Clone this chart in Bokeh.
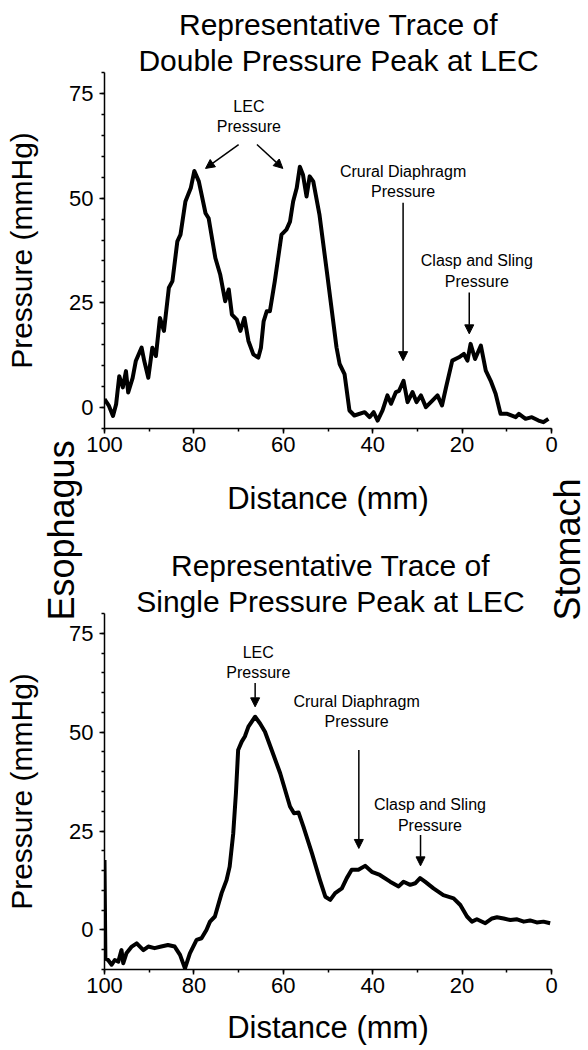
import math
from bokeh.plotting import figure
from bokeh.models import (Range1d, SingleIntervalTicker, Arrow, NormalHead,
                          ColumnDataSource)
from bokeh.layouts import column
from bokeh.core.properties import value
from bokeh.embed import file_html
from bokeh.resources import INLINE

FONT = "Liberation Sans"

# ---------------- data ----------------
top_title = ["Representative Trace of", "Double Pressure Peak at LEC"]
bot_title = ["Representative Trace of", "Single Pressure Peak at LEC"]
side_labels = ["Esophagus", "Stomach"]

top_x = [100, 99, 98.1, 97.4, 96.7, 95.9, 95.2, 94.7, 93.7, 93, 91.7, 91.1, 90.2,
         89.3, 88.5, 87.6, 86.7, 85.6, 84.8, 83.7, 83, 81.9, 80.7, 79.9, 78.9, 77.4,
         76.7, 75.2, 74.1, 73, 72.2, 71.5, 70.4, 69.6, 68.7, 67.8, 66.7, 65.6, 65,
         64.4, 63.7, 63, 61.9, 60.4, 59.3, 58.5, 57.8, 57, 56.3, 55.6, 54.8, 54.1,
         53.3, 51.9, 50.2, 48.1, 47.4, 46.3, 45.2, 44.1, 41.8, 40.7, 39.8, 38.9,
         37.8, 36.7, 35.9, 34.8, 34.1, 33.1, 32.2, 31.1, 30.2, 29.2, 28.1, 26.6,
         25.5, 24.5, 23.6, 22.2, 20.7, 19.6, 18.8, 18.1, 17.1, 15.8, 14.7, 13.6,
         12.5, 11.4, 9.9, 8, 7.3, 5.8, 4.4, 2.9, 1.8, 0.7]
top_y = [2, 0.4, -2, 0.8, 7.5, 4.8, 8.7, 3.6, 7.1, 11.1, 14.3, 11.1, 7.1,
         14.3, 12.3, 21.4, 18.3, 28.6, 30.2, 39.7, 41.3, 49.2, 52.4, 56.5, 54, 46.4,
         45.2, 35.7, 31.7, 25.4, 28.2, 22.2, 21, 18.3, 21.4, 15.9, 12.7, 11.9, 14.3,
         20.6, 23, 23, 30.2, 41.3, 42.5, 44.4, 49.2, 52.4, 57.5, 55.6, 50.4, 55.2,
         54, 46, 32, 14.4, 10.4, 8, -0.7, -1.9, -1.1, -2.3, -1.1, -3.1,
         -0.7, 2.9, 0.9, 3.7, 4, 6.4, 1.3, 3.7, 1.3, 2.9, 0.1, 1.7,
         2.9, 0.5, 4.8, 11.2, 12, 12.8, 11.2, 15.2, 11.6, 14.8, 8.8, 6.4,
         3.3, -1.5, -1.5, -2.3, -1.5, -2.7, -2.3, -3.1, -3.5, -2.7]

bot_x = [100, 99.8, 99.2, 98.4, 97.7, 96.9, 96.2, 95.8, 95.1, 93.9, 92.8, 91.3, 90.2,
         88.8, 87.3, 85.8, 84.3, 83.1, 82, 80.9, 79.4, 78.3, 77.2, 76.4, 75.3, 73.8,
         72.7, 72, 71.2, 70.6, 70.1, 69.3, 68.6, 67.8, 66.3, 65.2, 64.1, 62.6, 60.7,
         58.5, 57.6, 56.6, 55.5, 53.6, 51.8, 50.6, 49.5, 48.4, 46.9, 45.8, 44.7, 43.2,
         41.7, 40.2, 38.4, 36.1, 34.2, 33.1, 31.6, 30.5, 29.4, 28.3, 26.4, 24.2, 21.9,
         20.4, 18.9, 17.8, 16.7, 14.8, 13.3, 12.2, 10.7, 9.2, 7.7, 6.2, 4.8, 3.3, 1.8, 0.3]
bot_y = [17.7, -7.2, -7.6, -8.8, -7.6, -8, -5.1, -8.4, -5.9, -4.2, -3.4, -5.1, -4.2,
         -4.6, -4.2, -3.8, -4.2, -6.3, -9.7, -5.9, -2.5, -2.1, 0, 2.1, 3.4, 9.3,
         12.6, 16, 24.4, 34.5, 45.5, 47.6, 48.9, 51.4, 53.9, 52.2, 50.1, 45.5, 39.6,
         31.2, 29.5, 29.7, 26.1, 19.4, 12.6, 8.4, 7.6, 9.3, 10.5, 13.1, 15.2, 15.2,
         16.2, 14.7, 13.9, 12.2, 11, 12.2, 11.4, 11.8, 13.1, 12.2, 10.5, 8.8, 8,
         6.3, 3.4, 2.1, 2.7, 1.7, 2.9, 3.2, 2.9, 2.5, 2.7, 2.1, 2.4, 1.9, 2.1, 1.7]

ann_text = ["LEC", "Pressure", "Crural Diaphragm", "Pressure", "Clasp and Sling", "Pressure"]

# annotation placement (data units)
top_ann_x = [67.7, 67.7, 33.2, 33.2, 16.7, 16.7]
top_ann_y = [71.9, 67.1, 56.3, 51.5, 35.0, 30.2]
top_arr = dict(x_start=[70, 65.9, 33.2, 18.4], y_start=[62.8, 62.8, 48.9, 27.5],
               x_end=[77.4, 60.1, 33.2, 18.4], y_end=[57.1, 57.1, 11.2, 17.6])

bot_ann_x = [65.6, 65.6, 43.6, 43.6, 27.2, 27.2]
bot_ann_y = [70.1, 65.0, 57.7, 52.7, 31.6, 26.5]
bot_arr = dict(x_start=[66.3, 43.1, 29.3], y_start=[62.4, 45.5, 24.0],
               x_end=[66.3, 43.1, 29.3], y_end=[56.4, 20.6, 16.2])

W = 588
H_TOP, H_BOT = 530, 520
H_ALL = H_TOP + H_BOT


def make_fig(height, btop, bbottom, ymin, xs, ys, ax, ay, arr, xlab_standoff):
    p = figure(width=W, height=height, x_range=Range1d(100, 0), y_range=Range1d(ymin, 80),
               output_backend="svg", toolbar_location=None, title=None,
               min_border_left=104, min_border_right=37,
               min_border_top=btop, min_border_bottom=bbottom)
    p.outline_line_color = None
    p.grid.visible = False
    p.border_fill_alpha = 0
    p.background_fill_color = None

    p.line(xs, ys, line_width=4, line_color="black", line_join="round")

    p.text(x=ax, y=ay, text=ann_text, text_font=value(FONT), text_font_size="16px",
           text_align="center", text_baseline="middle", text_color="black")
    p.add_layout(Arrow(source=ColumnDataSource(arr), x_start="x_start", y_start="y_start",
                       x_end="x_end", y_end="y_end", line_width=1.5, line_color="black",
                       end=NormalHead(size=9, fill_color="black", line_color="black",
                                      line_width=1)))

    xa = p.xaxis[0]
    xa.ticker = SingleIntervalTicker(interval=20, num_minor_ticks=2)
    ya = p.yaxis[0]
    ya.ticker = SingleIntervalTicker(interval=25, num_minor_ticks=5)
    for a in (xa, ya):
        a.axis_line_width = 1.5
        a.axis_line_color = "black"
        a.major_tick_line_width = 1.5
        a.minor_tick_line_width = 1.5
        a.major_tick_line_color = "black"
        a.minor_tick_line_color = "black"
        a.major_tick_in = 0
        a.major_tick_out = 5
        a.minor_tick_in = 0
        a.minor_tick_out = 3
        a.major_label_text_font = FONT
        a.major_label_text_font_size = "22px"
        a.major_label_text_color = "black"
        a.axis_label_text_font = FONT
        a.axis_label_text_font_style = "normal"
        a.axis_label_text_color = "black"
    xa.axis_label = "Distance (mm)"
    xa.axis_label_text_font_size = "31px"
    xa.major_label_standoff = 3
    xa.axis_label_standoff = xlab_standoff
    ya.axis_label = "Pressure (mmHg)"
    ya.axis_label_text_font_size = "30px"
    ya.major_label_standoff = 6
    ya.axis_label_standoff = 28
    return p


top = make_fig(H_TOP, 72, H_TOP - 72 - 356, -5, top_x, top_y, top_ann_x, top_ann_y,
               top_arr, 26)
bot = make_fig(H_BOT, 83, H_BOT - 83 - 356, -10, bot_x, bot_y, bot_ann_x, bot_ann_y,
               bot_arr, 14)

# transparent text layer over the whole page (1 data unit = 1 pixel, y measured up)
ov = figure(width=W, height=H_ALL, x_range=Range1d(0, W), y_range=Range1d(0, H_ALL),
            output_backend="svg", toolbar_location=None, title=None,
            x_axis_type=None, y_axis_type=None,
            min_border_left=0, min_border_right=0, min_border_top=0, min_border_bottom=0)
ov.outline_line_color = None
ov.grid.visible = False
ov.border_fill_alpha = 0
ov.background_fill_color = None
ov.margin = (-H_ALL, 0, 0, 0)
if hasattr(ov, "frame_align"):
    ov.frame_align = False

# plot titles (page y positions converted to upward data y)
title_page_y = [24, 60, 565, 601]
ov.text(x=[338, 338, 330, 330], y=[H_ALL - v for v in title_page_y],
        text=top_title + bot_title,
        text_font=value(FONT), text_font_size="30px", text_align="center",
        text_baseline="alphabetic", text_color="black")
# side labels (read bottom to top)
ov.text(x=[61, 567], y=[H_ALL - 620, H_ALL - 620], text=side_labels, angle=math.pi / 2,
        text_font=value(FONT), text_font_size="36px", text_align="left",
        text_baseline="middle", text_color="black")

layout = column(top, bot, ov, spacing=0)
open("out.html", "w").write(file_html(layout, INLINE))
